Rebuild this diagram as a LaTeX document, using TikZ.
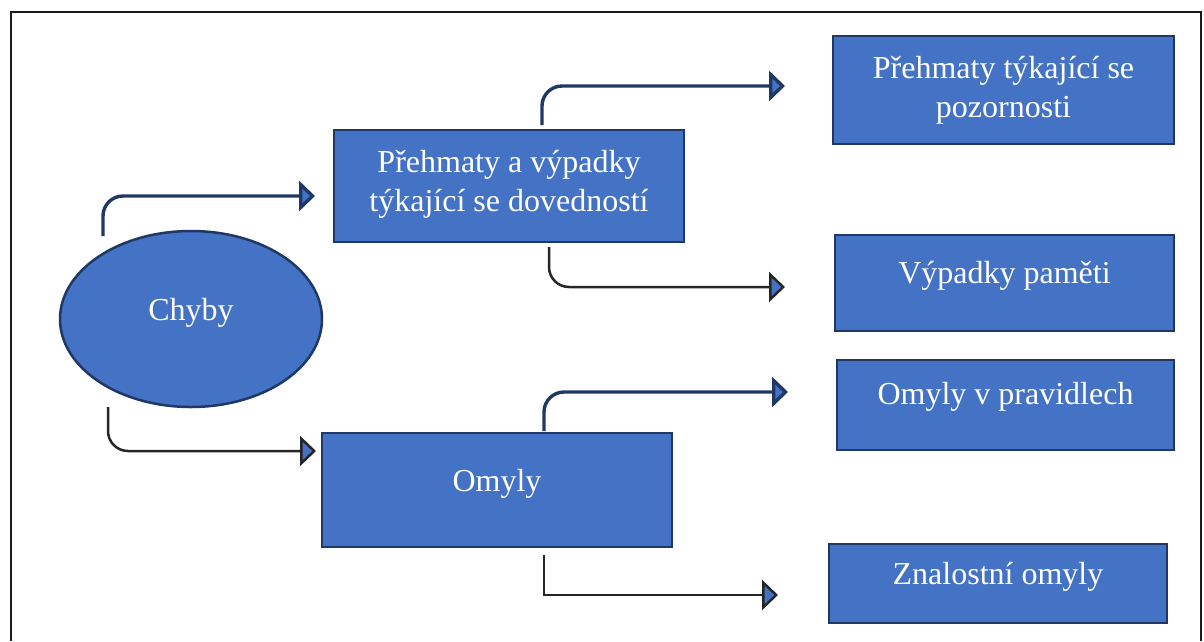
\documentclass[tikz,border=0pt]{standalone}
\usepackage{fontspec}
\setmainfont{Liberation Serif}
\usetikzlibrary{arrows.meta,shapes.geometric}
\definecolor{boxfill}{HTML}{4472C4}
\definecolor{boxline}{HTML}{1F3864}
\definecolor{darkline}{HTML}{262626}
\definecolor{framecol}{HTML}{1A1A1A}
\begin{document}
\begin{tikzpicture}[x=1pt,y=-1pt,
  boxstyle/.style={draw=boxline, line width=2.5pt, fill=boxfill, inner sep=0pt, rectangle},
  ovalstyle/.style={draw=boxline, line width=2.5pt, fill=boxfill, inner sep=0pt, ellipse},
  txt/.style={text=white, font=\fontsize{32}{39}\selectfont, inner sep=0pt, anchor=base},
  tipstyle/.style={-{Triangle[length=16pt,width=30pt,fill=boxfill]}},
  navyarrow/.style={draw=boxline, line width=3.4pt, rounded corners=20pt, tipstyle},
  blackarrow/.style={draw=darkline, line width=2.5pt, rounded corners=20pt, tipstyle},
  sharparrow/.style={draw=darkline, line width=2.5pt, tipstyle},
  framestyle/.style={draw=framecol, line width=1.3pt}
]
\useasboundingbox (0,0) rectangle (1204,641);
\fill[white] (0,0) rectangle (1204,641);
\draw[framestyle] (11,641) -- (11,12) -- (1201,12) -- (1201,641);

% shapes
\node[ovalstyle, minimum width=262pt, minimum height=176pt] (chyby) at (191,319) {};
\node[boxstyle, minimum width=350pt, minimum height=112pt] (b1) at (509,186) {};
\node[boxstyle, minimum width=341pt, minimum height=108pt] (b2) at (1003.5,90) {};
\node[boxstyle, minimum width=339pt, minimum height=96pt] (b3) at (1004.5,283) {};
\node[boxstyle, minimum width=337pt, minimum height=90pt] (b4) at (1005.5,405) {};
\node[boxstyle, minimum width=350pt, minimum height=114pt] (b5) at (497,490) {};
\node[boxstyle, minimum width=338pt, minimum height=79pt] (b6) at (998,583.5) {};

% texts
\node[txt] (t0) at (191,320) {Chyby};
\node[txt] (t1) at (509,172) {\begin{tabular}[t]{@{}c@{}}Přehmaty a výpadky\\týkající se dovedností\end{tabular}};
\node[txt] (t2) at (1003.5,78) {\begin{tabular}[t]{@{}c@{}}Přehmaty týkající se\\pozornosti\end{tabular}};
\node[txt] (t3) at (1004.5,283) {Výpadky paměti};
\node[txt] (t4) at (1005.5,404) {Omyly v pravidlech};
\node[txt] (t5) at (497,491) {Omyly};
\node[txt] (t6) at (998,584) {Znalostní omyly};

% connector end points
\coordinate (a1s) at (103,236);  \coordinate (a1e) at (315,196);
\coordinate (a2s) at (108,407);  \coordinate (a2e) at (316,451);
\coordinate (a3s) at (542,125);  \coordinate (a3e) at (785,86);
\coordinate (a4s) at (549,247);  \coordinate (a4e) at (785,287);
\coordinate (a5s) at (544,431);  \coordinate (a5e) at (788,392);
\coordinate (a6s) at (544,555);  \coordinate (a6e) at (778,595);

\draw[navyarrow] (a1s) |- (a1e);
\draw[blackarrow] (a2s) |- (a2e);
\draw[navyarrow] (a3s) |- (a3e);
\draw[blackarrow] (a4s) |- (a4e);
\draw[navyarrow] (a5s) |- (a5e);
\draw[sharparrow] (a6s) |- (a6e);
\end{tikzpicture}
\end{document}
